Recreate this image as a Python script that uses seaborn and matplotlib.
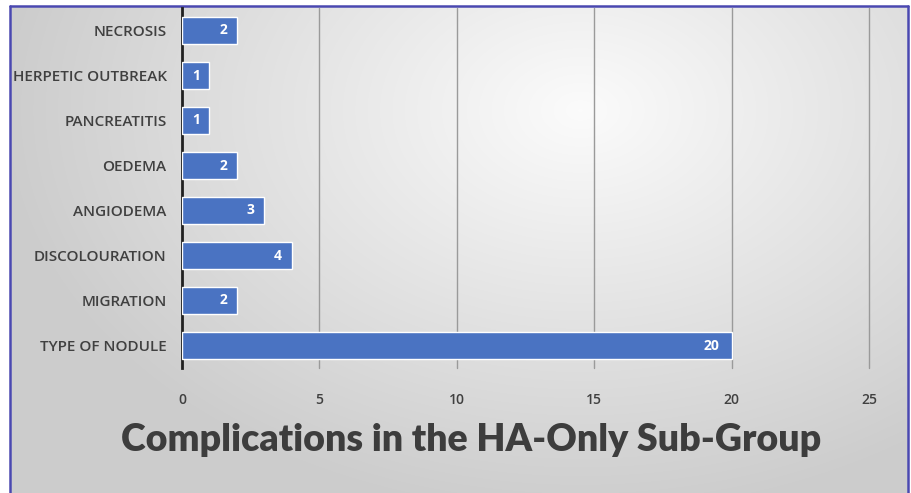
import numpy as np
import pandas as pd
import matplotlib
matplotlib.use("Agg")
import matplotlib.pyplot as plt
import seaborn as sns
from matplotlib.patches import Rectangle
from matplotlib.lines import Line2D

categories = ["NECROSIS", "HERPETIC OUTBREAK", "PANCREATITIS", "OEDEMA",
              "ANGIODEMA", "DISCOLOURATION", "MIGRATION", "TYPE OF NODULE"]
counts = [2, 1, 1, 2, 3, 4, 2, 20]
x_ticks = [0, 5, 10, 15, 20, 25]
title = "Complications in the HA-Only Sub-Group"

df = pd.DataFrame({"category": categories, "count": counts})

sns.set_theme(style="white")
plt.rcParams['font.family'] = ['Open Sans', 'DejaVu Sans']

W, H = 912, 493
fig = plt.figure(figsize=(W / 100, H / 100), dpi=100)
fig.patch.set_facecolor("white")

# background gradient panel
bg = fig.add_axes([0, 0, 1, 1], zorder=0)
bg.set_axis_off()
yy, xx = np.mgrid[0:H, 0:W]
cx, cy = 580, 110
r = np.sqrt(((xx - cx) / 600.0) ** 2 + ((yy - cy) / 420.0) ** 2)
v = np.clip(0.985 - 0.19 * r, 0.80, 0.985)
img = np.dstack([v, v, v])
bg.imshow(img, extent=[0, W, H, 0], aspect="auto")
bg.set_xlim(0, W)
bg.set_ylim(H, 0)
# white outside the frame
bg.add_patch(Rectangle((0, 0), 10, H, color="white", zorder=2))
bg.add_patch(Rectangle((0, 0), W, 6, color="white", zorder=2))
bg.add_patch(Rectangle((908, 0), 4, H, color="white", zorder=2))
bg.add_line(Line2D([10, 10], [6, H], color="#4a48b0", lw=1.8, zorder=3))
bg.add_line(Line2D([10, 908], [6, 6], color="#4a48b0", lw=1.8, zorder=3))
bg.add_line(Line2D([908, 908], [6, H], color="#4a48b0", lw=1.8, zorder=3))

ax = fig.add_axes([182 / W, 1 - 368 / H, (869 - 182) / W, (368 - 8) / H], zorder=1)
ax.patch.set_alpha(0)
sns.barplot(data=df, x="count", y="category", orient="h", color="#4a73c2",
            saturation=1, width=0.58, ax=ax, zorder=3)
ax.set_xlim(0, 25.0)
ax.set_ylim(7.5, -0.5)
ax.set_xticks(x_ticks)
ax.set_xticklabels([str(t) for t in x_ticks], fontsize=10, color="#404040")
ax.tick_params(axis="x", length=0, pad=18)
ax.tick_params(axis="y", length=0, pad=11)
for lbl in ax.get_yticklabels():
    lbl.set_fontsize(11)
    lbl.set_fontweight("semibold")
    lbl.set_color("#404040")
for lbl in ax.get_xticklabels():
    lbl.set_fontweight("semibold")
ax.set_xlabel("")
ax.set_ylabel("")
for t in x_ticks[1:]:
    ax.axvline(t, color="#9a9a9a", lw=1.0, zorder=1, clip_on=False)
for s in ["top", "right", "bottom"]:
    ax.spines[s].set_visible(False)
ax.spines["left"].set_color("#202020")
ax.spines["left"].set_linewidth(2.0)

for i, c in enumerate(counts):
    if c >= 10:
        xpos = c - 0.75
    elif c >= 2:
        xpos = c - 0.5
    else:
        xpos = c / 2
    ax.text(xpos, i, str(c), ha="center", va="center",
            color="white", fontsize=10, fontweight="bold", zorder=4)

fig.text(471 / W, 1 - 440 / H, title, ha="center", va="center",
         fontsize=27, fontweight="heavy", color="#3d3d3d",
         family=["Lato", "DejaVu Sans"])

fig.savefig("out.png", dpi=100)
